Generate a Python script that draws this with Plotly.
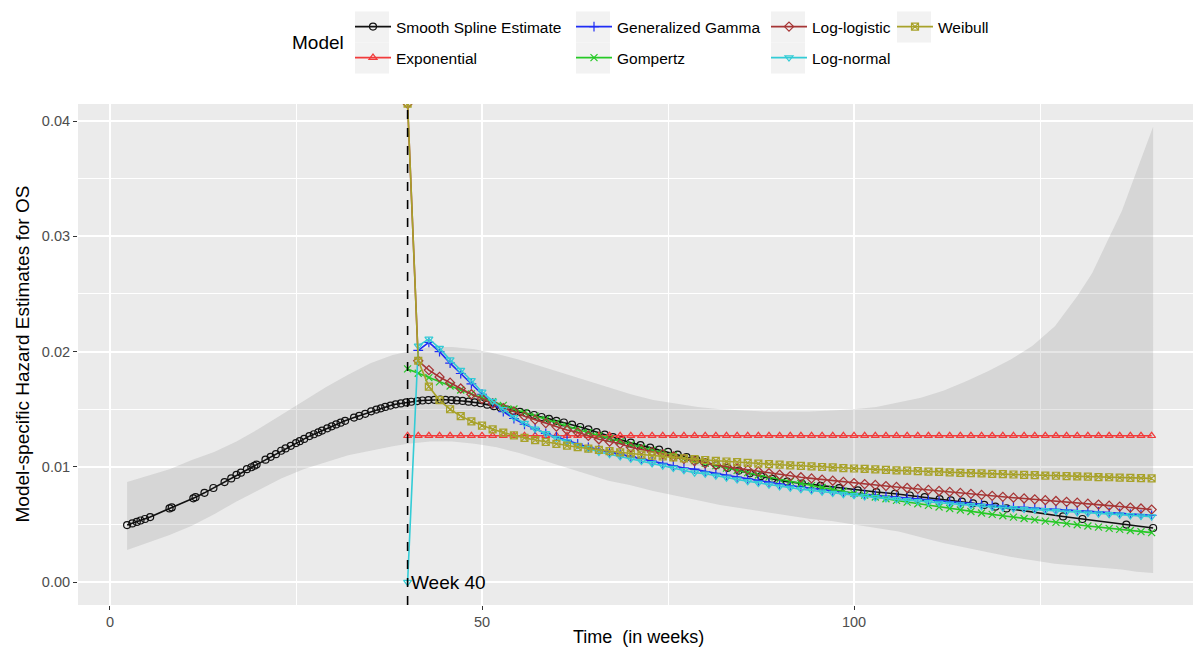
import plotly.graph_objects as go

# ---------------- data ----------------
landmark_week = 40
landmark_label = "Week 40"

fit_weeks = [40.0, 41.43, 42.86, 44.29, 45.71, 47.14, 48.57, 50.0, 51.43, 52.86,
             54.29, 55.71, 57.14, 58.57, 60.0, 61.43, 62.86, 64.29, 65.71, 67.14,
             68.57, 70.0, 71.43, 72.86, 74.29, 75.71, 77.14, 78.57, 80.0, 81.43,
             82.86, 84.29, 85.71, 87.14, 88.57, 90.0, 91.43, 92.86, 94.29, 95.71,
             97.14, 98.57, 100.0, 101.43, 102.86, 104.29, 105.71, 107.14, 108.57, 110.0,
             111.43, 112.86, 114.29, 115.71, 117.14, 118.57, 120.0, 121.43, 122.86, 124.29,
             125.71, 127.14, 128.57, 130.0, 131.43, 132.86, 134.29, 135.71, 137.14, 138.57,
             140.0]

exponential = [0.0127, 0.0127, 0.0127, 0.0127, 0.0127, 0.0127, 0.0127, 0.0127, 0.0127, 0.0127,
               0.0127, 0.0127, 0.0127, 0.0127, 0.0127, 0.0127, 0.0127, 0.0127, 0.0127, 0.0127,
               0.0127, 0.0127, 0.0127, 0.0127, 0.0127, 0.0127, 0.0127, 0.0127, 0.0127, 0.0127,
               0.0127, 0.0127, 0.0127, 0.0127, 0.0127, 0.0127, 0.0127, 0.0127, 0.0127, 0.0127,
               0.0127, 0.0127, 0.0127, 0.0127, 0.0127, 0.0127, 0.0127, 0.0127, 0.0127, 0.0127,
               0.0127, 0.0127, 0.0127, 0.0127, 0.0127, 0.0127, 0.0127, 0.0127, 0.0127, 0.0127,
               0.0127, 0.0127, 0.0127, 0.0127, 0.0127, 0.0127, 0.0127, 0.0127, 0.0127, 0.0127,
               0.0127]

gen_gamma = [None, 0.0201, 0.0208, 0.0200, 0.0190, 0.0181, 0.0172, 0.0163, 0.0155, 0.0148,
             0.0142, 0.0137, 0.0133, 0.0129, 0.0126, 0.0123, 0.0120, 0.0117, 0.0115, 0.0113,
             0.0111, 0.0109, 0.0107, 0.0105, 0.0103, 0.0101, 0.0099, 0.0098, 0.0096, 0.00944,
             0.00928, 0.00912, 0.00896, 0.00880, 0.00865, 0.0085, 0.00838, 0.00826, 0.00814, 0.00802,
             0.0079, 0.0078, 0.0077, 0.00761, 0.00753, 0.00744, 0.00736, 0.00727, 0.00719, 0.0071,
             0.00703, 0.00696, 0.00689, 0.00681, 0.00674, 0.00667, 0.0066, 0.00654, 0.00649, 0.00643,
             0.00637, 0.00631, 0.00626, 0.0062, 0.00614, 0.00609, 0.00603, 0.00597, 0.00591, 0.00586,
             0.0058]

gompertz = [0.01850, 0.01812, 0.01774, 0.01738, 0.01702, 0.01667, 0.01633, 0.01599, 0.01566, 0.01534,
            0.01502, 0.01471, 0.01441, 0.01411, 0.01382, 0.01353, 0.01325, 0.01298, 0.01271, 0.01245,
            0.01219, 0.01194, 0.01170, 0.01145, 0.01122, 0.01099, 0.01076, 0.01054, 0.01032, 0.01011,
            0.00990, 0.00970, 0.00950, 0.00930, 0.00911, 0.00892, 0.00874, 0.00856, 0.00838, 0.00821,
            0.00804, 0.00787, 0.00771, 0.00755, 0.00739, 0.00724, 0.00709, 0.00695, 0.00680, 0.00666,
            0.00652, 0.00639, 0.00626, 0.00613, 0.00600, 0.00588, 0.00576, 0.00564, 0.00552, 0.00541,
            0.00530, 0.00519, 0.00508, 0.00498, 0.00487, 0.00477, 0.00467, 0.00458, 0.00448, 0.00439,
            0.00430]

# the first point is infinite in the source; ggplot draws it on the panel edge
log_logistic = [0.0415, 0.0192, 0.0184, 0.0178, 0.0173, 0.0168, 0.0163, 0.0159, 0.0155, 0.0151,
                0.0148, 0.0144, 0.0141, 0.0138, 0.0135, 0.0132, 0.0130, 0.0127, 0.0124, 0.0122,
                0.0120, 0.0117, 0.0115, 0.0113, 0.0111, 0.0109, 0.0107, 0.0105, 0.0103, 0.01016,
                0.01002, 0.00988, 0.00974, 0.0096, 0.00946, 0.00932, 0.0092, 0.0091, 0.0090, 0.0089,
                0.0088, 0.0087, 0.0086, 0.00851, 0.00843, 0.00834, 0.00826, 0.00817, 0.00809, 0.0080,
                0.00791, 0.00783, 0.00774, 0.00766, 0.00757, 0.00749, 0.0074, 0.00733, 0.00726, 0.00719,
                0.00711, 0.00704, 0.00697, 0.0069, 0.00681, 0.00673, 0.00664, 0.00656, 0.00647, 0.00639,
                0.0063]

log_normal = [0.0, 0.0205, 0.0211, 0.0203, 0.0193, 0.0184, 0.0175, 0.0165, 0.0157, 0.0150,
              0.0143, 0.0138, 0.0133, 0.0129, 0.0125, 0.0122, 0.0119, 0.0116, 0.0113, 0.0111,
              0.0109, 0.0107, 0.0105, 0.0103, 0.0101, 0.0099, 0.0097, 0.0095, 0.0094, 0.00922,
              0.00906, 0.0089, 0.00875, 0.0086, 0.00845, 0.0083, 0.00818, 0.00806, 0.00795, 0.00784,
              0.00773, 0.00763, 0.00753, 0.00744, 0.00735, 0.00726, 0.00718, 0.0071, 0.00702, 0.00694,
              0.00687, 0.0068, 0.00673, 0.00666, 0.00659, 0.00652, 0.00646, 0.0064, 0.00634, 0.00628,
              0.00622, 0.00616, 0.00611, 0.00605, 0.0060, 0.00594, 0.00589, 0.00584, 0.00579, 0.00574,
              0.00569]

weibull = [0.0415, 0.01921, 0.01697, 0.01579, 0.01500, 0.01441, 0.01395, 0.01358, 0.01326, 0.01298,
           0.01274, 0.01252, 0.01233, 0.01216, 0.01200, 0.01185, 0.01171, 0.01159, 0.01147, 0.01136,
           0.01126, 0.01116, 0.01107, 0.01098, 0.01090, 0.01082, 0.01074, 0.01067, 0.01060, 0.01053,
           0.01047, 0.01041, 0.01035, 0.01029, 0.01024, 0.01019, 0.01014, 0.01009, 0.01004, 0.00999,
           0.00995, 0.00990, 0.00986, 0.00982, 0.00978, 0.00974, 0.00970, 0.00967, 0.00963, 0.00959,
           0.00956, 0.00953, 0.00949, 0.00946, 0.00943, 0.00940, 0.00937, 0.00934, 0.00931, 0.00928,
           0.00925, 0.00923, 0.00920, 0.00917, 0.00915, 0.00912, 0.00910, 0.00907, 0.00905, 0.00903,
           0.00900]

spline_weeks = [2.3, 3.0, 3.6, 4.1, 4.7, 5.4, 8.0, 8.3, 11.2, 11.5,
                12.7, 13.9, 15.4, 16.3, 17.0, 17.6, 18.4, 19.0, 19.4, 19.7,
                20.9, 21.6, 22.3, 23.0, 23.6, 24.3, 25.0, 25.5, 26.1, 26.8,
                27.4, 28.0, 28.5, 29.2, 29.8, 30.4, 31.0, 31.6, 32.8, 33.5,
                34.3, 35.1, 35.8, 36.4, 37.0, 37.7, 38.4, 39.1, 39.8, 40.5,
                41.3, 42.0, 42.8, 43.6, 44.4, 45.1, 45.9, 46.6, 47.4, 48.2,
                49.0, 49.8, 50.7, 51.6, 52.5, 53.4, 54.2, 55.1, 56.0, 57.0,
                58.0, 59.0, 60.0, 61.0, 62.1, 63.2, 64.3, 65.4, 66.5, 67.6,
                68.8, 70.0, 71.3, 72.6, 73.8, 75.0, 76.3, 77.5, 78.8, 80.0,
                81.5, 83.0, 84.5, 86.0, 87.5, 89.0, 91.0, 93.0, 95.5, 98.0,
                100.5, 103.0, 105.5, 107.5, 109.5, 111.5, 113.0, 114.5, 116.0, 117.5,
                119.0, 120.5, 128.1, 130.7, 136.6, 140.2]
spline_hazard = [0.00495, 0.00510, 0.00523, 0.00535, 0.00548, 0.00565, 0.00640, 0.00648, 0.00727, 0.00737,
                 0.00775, 0.00817, 0.00868, 0.00900, 0.00930, 0.00950, 0.00980, 0.00997, 0.01010, 0.01020,
                 0.01063, 0.01087, 0.01110, 0.01140, 0.01160, 0.01183, 0.01207, 0.01223, 0.01243, 0.01267,
                 0.01283, 0.01300, 0.01315, 0.01335, 0.01352, 0.01368, 0.01384, 0.01400, 0.01428, 0.01443,
                 0.01460, 0.01482, 0.01497, 0.01508, 0.01520, 0.01532, 0.01543, 0.01551, 0.01559, 0.01565,
                 0.01571, 0.01576, 0.01580, 0.01582, 0.01583, 0.01582, 0.01580, 0.01577, 0.01572, 0.01566,
                 0.01560, 0.01552, 0.01540, 0.01527, 0.01512, 0.01498, 0.01487, 0.01478, 0.01465, 0.01450,
                 0.01433, 0.01417, 0.01400, 0.01385, 0.01367, 0.01346, 0.01325, 0.01302, 0.01280, 0.01258,
                 0.01235, 0.01210, 0.01189, 0.01168, 0.01149, 0.01130, 0.01107, 0.01085, 0.01062, 0.01040,
                 0.01016, 0.00992, 0.00968, 0.00944, 0.00920, 0.00896, 0.00872, 0.00856, 0.00836, 0.00816,
                 0.00797, 0.00782, 0.00767, 0.00752, 0.00737, 0.00721, 0.00710, 0.00698, 0.00684, 0.00670,
                 0.00655, 0.00640, 0.00570, 0.00548, 0.00500, 0.00470]

band_weeks = [2.3, 5, 8, 11, 14, 17, 20, 23, 26, 29, 32, 35, 38, 40, 43, 46, 49, 52, 55, 58,
              61, 64, 67, 70, 73, 76, 79, 82, 85, 88, 91, 94, 97, 100, 103, 106, 109, 112, 115, 118,
              121, 124, 127, 130, 132, 134, 136, 138, 140.2]
band_upper = [0.0087, 0.0092, 0.0098, 0.0106, 0.0113, 0.0122, 0.0133, 0.0145, 0.0157, 0.0169,
              0.0180, 0.0190, 0.0197, 0.0200, 0.0204, 0.0204, 0.0202, 0.0198, 0.0193, 0.0187,
              0.0181, 0.0175, 0.0169, 0.0163, 0.0158, 0.0155, 0.0152, 0.0150, 0.0149, 0.0148,
              0.0148, 0.0148, 0.0149, 0.0150, 0.0152, 0.0156, 0.0160, 0.0166, 0.0174, 0.0183,
              0.0193, 0.0205, 0.0222, 0.0248, 0.0268, 0.0295, 0.0322, 0.0357, 0.0395]
band_lower = [0.0028, 0.0034, 0.0041, 0.0049, 0.0059, 0.0070, 0.0080, 0.0090, 0.0098, 0.0104,
              0.0110, 0.0114, 0.0118, 0.0120, 0.0122, 0.0122, 0.0120, 0.0117, 0.0112, 0.0106,
              0.0100, 0.0094, 0.0088, 0.0084, 0.0079, 0.0075, 0.0071, 0.0067, 0.0064, 0.0061,
              0.0058, 0.0055, 0.0053, 0.0050, 0.0047, 0.0044, 0.0039, 0.0034, 0.0030, 0.0026,
              0.0022, 0.0019, 0.0016, 0.0014, 0.0013, 0.0012, 0.0011, 0.0009, 0.0008]

x_ticks = [0, 50, 100]
y_ticks = [0.00, 0.01, 0.02, 0.03, 0.04]
x_title = "Time \u00a0(in weeks)"
y_title = "Model-specific Hazard Estimates for OS"
legend_title = "Model"

# ---------------- styling ----------------
FONT = "Arial, Liberation Sans, sans-serif"
W, H = 1193, 650
ML, MR, MT, MB = 78, 0, 104, 45
PW, PH = W - ML - MR, H - MT - MB


def px_to_paper(px, py):
    return (px - ML) / PW, (H - MB - py) / PH


series = [
    # name, x, y, color, symbol, legend id, key centre (px x, px y)
    ("Smooth Spline Estimate", spline_weeks, spline_hazard, "#111111", "circle-open", "legend", (372, 27)),
    ("Exponential", fit_weeks, exponential, "#F23B3B", "triangle-up-open", "legend2", (372, 58)),
    ("Generalized Gamma", fit_weeks, gen_gamma, "#1F2DF5", "cross-thin-open", "legend3", (593, 27)),
    ("Gompertz", fit_weeks, gompertz, "#26C926", "x-thin-open", "legend4", (593, 58)),
    ("Log-logistic", fit_weeks, log_logistic, "#A63535", "diamond-open", "legend5", (788, 27)),
    ("Log-normal", fit_weeks, log_normal, "#33CCD6", "triangle-down-open", "legend6", (788, 58)),
    ("Weibull", fit_weeks, weibull, "#A8A22A", "square-x-open", "legend7", (914, 27)),
]

fig = go.Figure()

# confidence ribbon of the smooth spline
fig.add_trace(go.Scatter(
    x=band_weeks + band_weeks[::-1],
    y=band_upper + band_lower[::-1],
    fill="toself", fillcolor="rgba(130,130,130,0.2)",
    line=dict(width=0), mode="lines", hoverinfo="skip", showlegend=False))

layout_legends = {}
shapes = []
for name, xs, ys, col, sym, lg, (kx, ky) in series:
    fig.add_trace(go.Scatter(
        x=xs, y=ys, name=name, mode="lines+markers", legend=lg,
        line=dict(color=col, width=1.6),
        marker=dict(symbol=sym, size=7, color=col, line=dict(color=col, width=1.2)),
        connectgaps=False))
    layout_legends[lg] = dict(
        x=(kx - 22) / W, xref="container", xanchor="left",
        y=1 - ky / H, yref="container", yanchor="middle",
        orientation="v", bgcolor="rgba(0,0,0,0)", borderwidth=0,
        itemwidth=36, font=dict(family=FONT, size=15.5, color="#000000"))
    # grey key box (ggplot legend key background)
    x0, y0 = px_to_paper(kx - 17, ky + 15.5)
    x1, y1 = px_to_paper(kx + 17, ky - 15.5)
    shapes.append(dict(type="rect", xref="paper", yref="paper", layer="below",
                       x0=x0, x1=x1, y0=y0, y1=y1,
                       fillcolor="#F2F2F2", line=dict(width=0)))

shapes.append(dict(type="line", xref="x", yref="paper", x0=landmark_week, x1=landmark_week,
                   y0=0, y1=1, layer="above", line=dict(color="#000000", width=1.6, dash="dash")))

mx, my = px_to_paper(318, 43)
yx, _ = px_to_paper(22, 0)
tx, ty = px_to_paper(638, 637)

fig.update_layout(
    width=W, height=H,
    margin=dict(l=ML, r=MR, t=MT, b=MB, autoexpand=False),
    paper_bgcolor="#FFFFFF", plot_bgcolor="#EBEBEB",
    font=dict(family=FONT, color="#000000"),
    shapes=shapes,
    showlegend=True,
    **layout_legends,
    annotations=[
        dict(x=landmark_week, y=0, xref="x", yref="y", text=landmark_label, showarrow=False,
             xanchor="left", yanchor="middle", xshift=1, font=dict(family=FONT, size=19, color="#000000")),
        dict(x=mx, y=my, xref="paper", yref="paper", text=legend_title,
             showarrow=False, xanchor="center", yanchor="middle",
             font=dict(family=FONT, size=19, color="#000000")),
        dict(x=yx, y=0.5, xref="paper", yref="paper", text=y_title, textangle=-90,
             showarrow=False, xanchor="center", yanchor="middle",
             font=dict(family=FONT, size=19, color="#000000")),
        dict(x=tx, y=ty, xref="paper", yref="paper", text=x_title,
             showarrow=False, xanchor="center", yanchor="middle",
             font=dict(family=FONT, size=18, color="#000000")),
    ],
)

fig.update_xaxes(
    range=[-4.3, 145.56], tickvals=x_ticks, ticks="outside", ticklen=4, tickcolor="#333333",
    tickfont=dict(family=FONT, size=14.5, color="#4D4D4D"),
    showgrid=True, gridcolor="#FFFFFF", gridwidth=1.5, zeroline=False, showline=False,
    minor=dict(tickvals=[25, 75, 125], showgrid=True, gridcolor="#FFFFFF", gridwidth=0.7, ticks=""),
    automargin=False)
fig.update_yaxes(
    range=[-0.00198, 0.04148], tickvals=y_ticks, tickformat=".2f", ticks="outside", ticklen=4,
    tickcolor="#333333", tickfont=dict(family=FONT, size=14.5, color="#4D4D4D"),
    showgrid=True, gridcolor="#FFFFFF", gridwidth=1.5, zeroline=False, showline=False,
    minor=dict(tickvals=[0.005, 0.015, 0.025, 0.035], showgrid=True, gridcolor="#FFFFFF", gridwidth=0.7, ticks=""),
    automargin=False)

fig.write_html("out.html", config={"displayModeBar": False},
               post_script="document.body.style.margin='0px';document.body.style.padding='0px';")
